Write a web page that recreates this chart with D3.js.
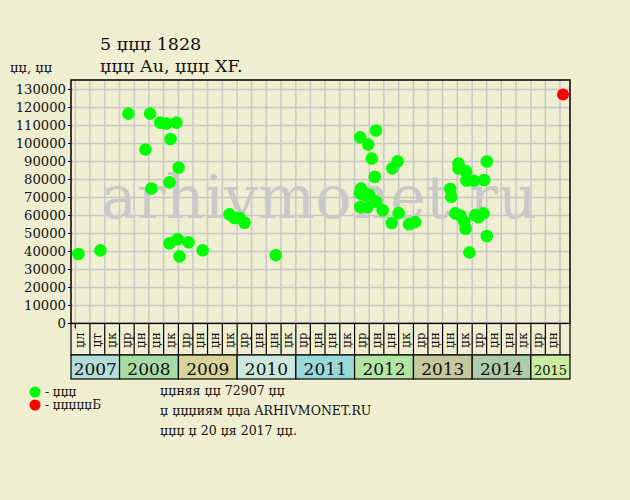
<!DOCTYPE html>
<html><head><meta charset="utf-8">
<script src="https://cdn.jsdelivr.net/npm/d3@7"></script>
<style>
html,body{margin:0;padding:0;background:#efeed1;}
svg{display:block;}
text{font-family:"DejaVu Serif",serif;fill:#111;}
</style></head>
<body><div id="chart"></div>
<script>
// ---- data ----
const years = ["2007","2008","2009","2010","2011","2012","2013","2014","2015"];
const yearColors = ["#b4dcd8","#a9dba4","#d9d49c","#cce8dc","#98d8d6","#b4e4a4","#c4c89c","#aeccac","#c8eca0"];
const periodLabels = [
  ["џл","џт","џк"],
  ["џр","џн","џн","џк"],
  ["џр","џн","џн","џк"],
  ["џр","џн","џн","џк"],
  ["џр","џн","џн","џк"],
  ["џр","џн","џн","џк"],
  ["џр","џн","џн","џк"],
  ["џр","џн","џн","џк"],
  ["џр","џн",""]
];
const yTicks = [0,10000,20000,30000,40000,50000,60000,70000,80000,90000,100000,110000,120000,130000];
const auctionDates = [
 "2007-04-20","2007-09-04","2008-02-25","2008-06-10","2008-07-09","2008-07-17","2008-09-10","2008-10-17",
 "2008-11-06","2008-11-06","2008-11-13","2008-12-20","2008-12-27","2009-01-02","2009-01-08","2009-03-05",
 "2009-06-01","2009-11-14","2009-12-15","2010-01-16","2010-02-16","2010-08-29",
 "2012-02-05","2012-02-10","2012-02-03","2012-03-07","2012-04-01","2012-02-05","2012-03-20","2012-03-26",
 "2012-04-17","2012-05-06","2012-05-13","2012-05-15","2012-06-24","2012-08-19","2012-08-22","2012-09-25",
 "2012-10-01","2012-12-05","2013-01-12",
 "2013-08-18","2013-08-24","2013-09-18","2013-10-08","2013-10-08","2013-10-19","2013-11-13","2013-11-21",
 "2013-11-24","2013-11-26","2013-12-15","2014-01-11","2014-01-20","2014-02-09","2014-03-12","2014-03-17",
 "2014-04-02","2014-04-02"
];
const auctionPrices = [
 38600,40600,116600,96700,116600,75000,111600,111100,
 78400,44500,102500,111600,46800,86700,37300,45100,
 40700,60600,58700,58600,56000,38000,
 103500,75000,72300,71300,71700,64700,64600,99400,
 91600,81500,107200,67700,62900,55800,86200,90100,
 61300,55100,56300,
 74700,70400,61200,88900,86100,60000,56500,52600,
 84500,79400,39500,79300,60200,59000,61200,79700,
 90000,48600
];
const shopDates = ["2015-07-20"];
const shopPrices = [127200];

const titleLine1 = "5 џџџ 1828";
const titleLine2 = "џџџ Au, џџџ XF.";
const yTitle = "џџ, џџ";
const legendLabels = ["- џџџ","- џџџџџБ"];
const infoLines = ["џџняя џџ 72907 џџ","џ џџџиям џџа ARHIVMONET.RU","џџџ џ 20 џя 2017 џџ."];
const watermark = "arhivmonet.ru";

// ---- layout ----
const W=630,H=500;
const L=71,R=570,T=80,B=323.5;
const labTop=B, labBot=355, yearBot=379;
const bg="#efeed1";

const svg=d3.select("#chart").append("svg").attr("width",W).attr("height",H);
svg.append("rect").attr("width",W).attr("height",H).attr("fill",bg);

const parse=d3.timeParse("%Y-%m-%d");
const x=d3.scaleTime().domain([new Date(2007,3,1),new Date(2015,6,1)]).range([75.3,560]);
const y=d3.scaleLinear().domain([0,130000]).range([B,89.5]);

const quarters=d3.timeMonth.every(3).range(new Date(2007,3,1),new Date(2015,6,2));

// grid
const grid=svg.append("g").attr("stroke","#c8c8c8").attr("stroke-width",1.5);
grid.selectAll("line.v").data(quarters).join("line")
  .attr("x1",d=>x(d)).attr("x2",d=>x(d)).attr("y1",T).attr("y2",B);
grid.selectAll("line.h").data(yTicks).join("line")
  .attr("x1",L).attr("x2",R).attr("y1",d=>y(d)).attr("y2",d=>y(d));

// watermark
svg.append("text").attr("x",101).attr("y",218)
  .attr("font-size",60).style("fill","#c9c9c9")
  .attr("textLength",436).attr("lengthAdjust","spacingAndGlyphs")
  .text(watermark);

// points
const auction=auctionDates.map((d,i)=>({date:parse(d),price:auctionPrices[i]}));
const shop=shopDates.map((d,i)=>({date:parse(d),price:shopPrices[i]}));
svg.append("g").selectAll("circle").data(auction).join("circle")
  .attr("cx",d=>x(d.date)).attr("cy",d=>y(d.price)).attr("r",6.3).attr("fill","#00ff00");
svg.append("g").selectAll("circle").data(shop).join("circle")
  .attr("cx",d=>x(d.date)).attr("cy",d=>y(d.price)).attr("r",6).attr("fill","#ff0000");

// plot border
svg.append("rect").attr("x",L).attr("y",T).attr("width",R-L).attr("height",B-T)
  .attr("fill","none").attr("stroke","#000").attr("stroke-width",1.5);

// y axis labels + ticks
const ya=svg.append("g");
ya.selectAll("text").data(yTicks).join("text")
  .attr("x",66).attr("y",d=>y(d)).attr("dy","0.36em").attr("text-anchor","end")
  .attr("font-size",13.2).text(d=>d);
ya.selectAll("line").data(yTicks).join("line")
  .attr("x1",L-3).attr("x2",L).attr("y1",d=>y(d)).attr("y2",d=>y(d)).attr("stroke","#000");

// period label columns
const bounds=[L].concat(quarters.slice(1).map(d=>x(d))).concat([R]);
const flatLabels=periodLabels.flat();
const cols=flatLabels.map((lab,i)=>({lab,x0:bounds[i],x1:bounds[i+1]}));
const lab=svg.append("g");
lab.append("rect").attr("x",L).attr("y",labTop).attr("width",R-L).attr("height",labBot-labTop)
  .attr("fill",bg).attr("stroke","#000").attr("stroke-width",1.2);
lab.selectAll("line").data(cols.slice(1)).join("line")
  .attr("x1",d=>d.x0).attr("x2",d=>d.x0).attr("y1",labTop).attr("y2",labBot)
  .attr("stroke","#000").attr("stroke-width",1.2);
lab.append("line").attr("x1",x(quarters[0])).attr("x2",x(quarters[0])).attr("y1",labTop).attr("y2",labTop+5)
  .attr("stroke","#000").attr("stroke-width",1.2);
lab.selectAll("text").data(cols).join("text")
  .attr("transform",d=>`translate(${(d.x0+d.x1)/2+4},${(labTop+labBot)/2+1}) rotate(-90)`)
  .attr("text-anchor","middle").attr("font-size",12).text(d=>d.lab);

// year boxes
const yb=years.map((yr,i)=>{
  const s=x(new Date(+yr,0,1)), e=x(new Date(+yr+1,0,1));
  return {yr,c:yearColors[i],x0:Math.max(L,s),x1:Math.min(R,e)};
});
const yg=svg.append("g");
yg.selectAll("rect").data(yb).join("rect")
  .attr("x",d=>d.x0).attr("y",labBot).attr("width",d=>d.x1-d.x0).attr("height",yearBot-labBot)
  .attr("fill",d=>d.c).attr("stroke","#000").attr("stroke-width",1.2);
yg.selectAll("text").data(yb).join("text")
  .attr("x",d=>(d.x0+d.x1)/2).attr("y",375).attr("text-anchor","middle")
  .attr("font-size",d=>d.yr==="2015"?13:17).text(d=>d.yr);

// titles
svg.append("text").attr("x",100).attr("y",49.5).attr("font-size",17.5).text(titleLine1);
svg.append("text").attr("x",100).attr("y",72).attr("font-size",17.5).text(titleLine2);
svg.append("text").attr("x",10).attr("y",72).attr("font-size",13).text(yTitle);

// legend
const legColors=["#00ff00","#ff0000"];
legendLabels.forEach((t,i)=>{
  svg.append("circle").attr("cx",35).attr("cy",392+i*13).attr("r",5.5).attr("fill",legColors[i]);
  svg.append("text").attr("x",45).attr("y",396+i*13).attr("font-size",12).text(t);
});
infoLines.forEach((t,i)=>{
  svg.append("text").attr("x",160).attr("y",394.5+i*20).attr("font-size",12.5).text(t);
});
</script></body></html>
